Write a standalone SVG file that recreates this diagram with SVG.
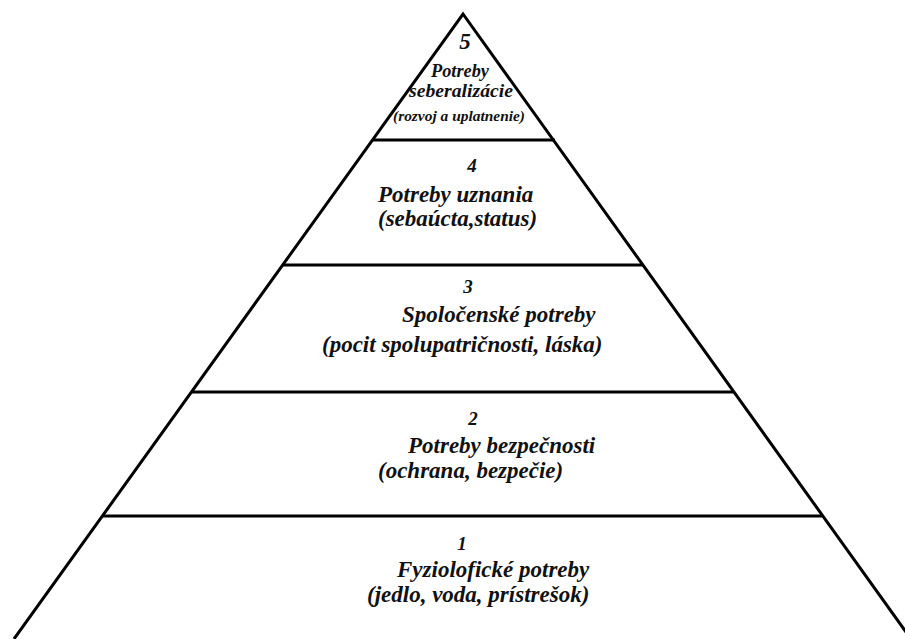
<svg xmlns="http://www.w3.org/2000/svg" width="905" height="639" viewBox="0 0 905 639">
<style>
.edge{fill:none;stroke:#000;stroke-width:3;stroke-linejoin:miter}
.div{stroke:#000;stroke-width:3}
text{font-family:'Liberation Serif','Times New Roman','DejaVu Serif',serif;font-style:italic;font-weight:700;fill:#111}
.num{font-size:19px;text-anchor:middle}
.t{font-size:23px}
.s5{font-size:19px}
.sm{font-size:14px}
</style>
<rect width="905" height="639" fill="#fff"/>
<g id="connectors">
<polyline class="edge" points="14,639 463,14 911,639"/>
<line class="div" x1="372.5" y1="140" x2="555" y2="140"/>
<line class="div" x1="282.6" y1="265" x2="642.5" y2="265"/>
<line class="div" x1="191.4" y1="392" x2="733.5" y2="392"/>
<line class="div" x1="102.5" y1="516" x2="822.5" y2="516"/>
</g>
<g id="tier5">
<text x="465" y="49" style="font-size:23px;text-anchor:middle">5</text>
<text class="s5" x="431" y="77" textLength="58" lengthAdjust="spacingAndGlyphs">Potreby</text>
<text class="s5" x="409" y="97" textLength="104" lengthAdjust="spacingAndGlyphs">seberalizácie</text>
<text class="sm" x="393" y="121" textLength="132" lengthAdjust="spacingAndGlyphs">(rozvoj a uplatnenie)</text>
</g>
<g id="tier4">
<text class="num" x="472" y="172">4</text>
<text class="t" x="378" y="202">Potreby uznania</text>
<text class="t" x="378" y="226">(sebaúcta,status)</text>
</g>
<g id="tier3">
<text class="num" x="468" y="293">3</text>
<text class="t" x="402" y="322">Spoločenské potreby</text>
<text class="t" x="322" y="352">(pocit spolupatričnosti, láska)</text>
</g>
<g id="tier2">
<text class="num" x="473" y="425">2</text>
<text class="t" x="408" y="453">Potreby bezpečnosti</text>
<text class="t" x="378" y="478">(ochrana, bezpečie)</text>
</g>
<g id="tier1">
<text class="num" x="462" y="550">1</text>
<text class="t" x="397" y="577">Fyziolofické potreby</text>
<text class="t" x="367" y="602">(jedlo, voda, prístrešok)</text>
</g>
</svg>
